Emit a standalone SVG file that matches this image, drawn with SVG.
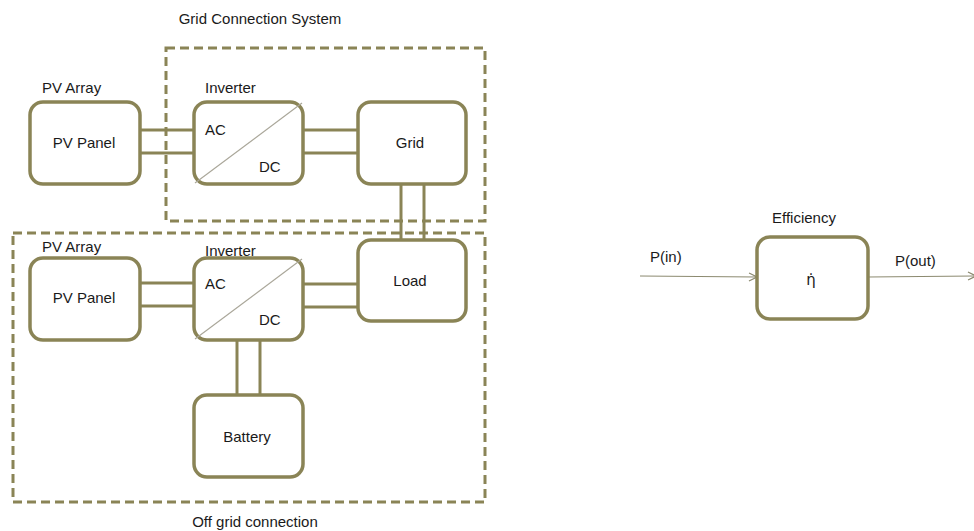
<svg xmlns="http://www.w3.org/2000/svg" width="974" height="531" viewBox="0 0 974 531">
<style>
.box{fill:#fff;stroke:#8a8456;stroke-width:3.5}
.dash{fill:none;stroke:#8a8456;stroke-width:3;stroke-dasharray:9 5}
.con{stroke:#8a8456;stroke-width:3;fill:none}
.diag{stroke:#aaa79a;stroke-width:1.2}
.arr{stroke:#8c8a70;stroke-width:1.2;fill:none}
text{font-family:"Liberation Sans",Arial,sans-serif;font-size:15px;fill:#1a1a1a}
.c{text-anchor:middle}
.eta{font-family:"DejaVu Sans","Noto Sans",sans-serif;font-size:15px}
</style>
<defs>
<marker id="ah" markerWidth="10" markerHeight="10" refX="9" refY="5" orient="auto" markerUnits="userSpaceOnUse">
<path d="M1,1 L9,5 L1,9" fill="none" stroke="#8c8a70" stroke-width="1.2"/>
</marker>
</defs>
<rect width="974" height="531" fill="#fff"/>

<g id="grid-system">
<rect class="dash" x="166" y="48" width="319" height="173"/>
<text class="c" x="260" y="24">Grid Connection System</text>
</g>
<g id="offgrid-system">
<rect class="dash" x="13" y="233" width="472" height="269"/>
<text class="c" x="255" y="527">Off grid connection</text>
</g>

<g id="connectors">
<line class="con" x1="140" y1="130" x2="194" y2="130"/>
<line class="con" x1="140" y1="153" x2="194" y2="153"/>
<line class="con" x1="303" y1="130" x2="358" y2="130"/>
<line class="con" x1="303" y1="153" x2="358" y2="153"/>
<line class="con" x1="401" y1="184" x2="401" y2="240"/>
<line class="con" x1="424" y1="184" x2="424" y2="240"/>
<line class="con" x1="140" y1="283" x2="194" y2="283"/>
<line class="con" x1="140" y1="306" x2="194" y2="306"/>
<line class="con" x1="303" y1="284" x2="358" y2="284"/>
<line class="con" x1="303" y1="307" x2="358" y2="307"/>
<line class="con" x1="237" y1="340" x2="237" y2="395"/>
<line class="con" x1="260" y1="340" x2="260" y2="395"/>
<line class="arr" x1="640" y1="276" x2="757" y2="277" marker-end="url(#ah)"/>
<line class="arr" x1="868" y1="277" x2="976" y2="276" marker-end="url(#ah)"/>
</g>

<g id="pv-panel-top">
<text x="42" y="93">PV Array</text>
<rect class="box" x="30" y="102" width="110" height="82" rx="13"/>
<text class="c" x="84" y="148">PV Panel</text>
</g>
<g id="inverter-top">
<text x="205" y="93">Inverter</text>
<rect class="box" x="194" y="102" width="109" height="82" rx="13"/>
<line class="diag" x1="195" y1="183" x2="302" y2="103"/>
<text x="205" y="135">AC</text>
<text x="259" y="172">DC</text>
</g>
<g id="grid">
<rect class="box" x="358" y="102" width="108" height="82" rx="13"/>
<text class="c" x="410" y="148">Grid</text>
</g>

<g id="pv-panel-bottom">
<text x="42" y="252">PV Array</text>
<rect class="box" x="30" y="258" width="110" height="82" rx="13"/>
<text class="c" x="84" y="303">PV Panel</text>
</g>
<g id="inverter-bottom">
<text x="205" y="256">Inverter</text>
<rect class="box" x="194" y="258" width="109" height="82" rx="13"/>
<line class="diag" x1="195" y1="339" x2="302" y2="259"/>
<text x="205" y="289">AC</text>
<text x="259" y="325">DC</text>
</g>
<g id="load">
<rect class="box" x="358" y="240" width="108" height="81" rx="13"/>
<text class="c" x="410" y="286">Load</text>
</g>
<g id="battery">
<rect class="box" x="194" y="395" width="109" height="82" rx="13"/>
<text class="c" x="247" y="442">Battery</text>
</g>

<g id="efficiency">
<text class="c" x="804" y="223">Efficiency</text>
<rect class="box" x="757" y="237" width="111" height="82" rx="13"/>
<text class="c eta" x="811" y="285">η̇</text>
</g>
<g id="labels">
<text x="650" y="262">P(in)</text>
<text x="895" y="266">P(out)</text>
</g>
</svg>
